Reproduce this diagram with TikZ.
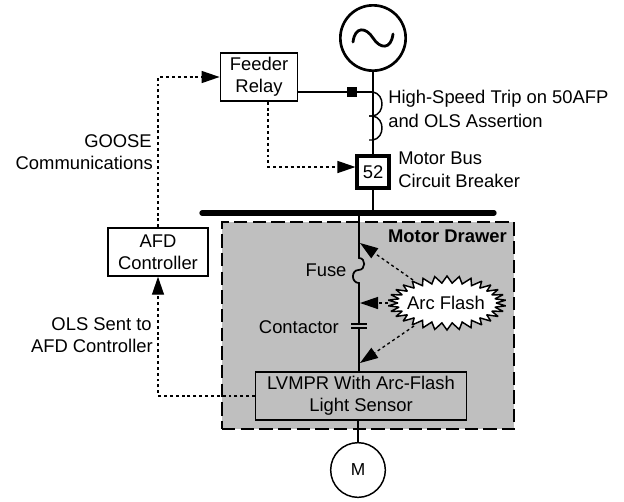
\documentclass[tikz,border=0pt]{standalone}
\usepackage{fontspec}
\setmainfont{Liberation Sans}
\usetikzlibrary{arrows.meta}
\definecolor{drawergray}{HTML}{BFBFBF}
\tikzset{
  x=0.75pt,y=-0.75pt,
  lbl/.style={font=\fontsize{13.8pt}{16.5pt}\selectfont,inner sep=0pt},
  boxed/.style={draw,line width=1.1pt,fill=white,align=center,font=\fontsize{13.8pt}{16.5pt}\selectfont,inner sep=0pt},
  wire/.style={line width=1.1pt},
  feeder/.style={line width=1.9pt},
  dots/.style={line width=1pt,dash pattern=on 2.2pt off 2.2pt,-{Triangle[length=13.5pt,width=9pt]}},
}
\begin{document}
\begin{tikzpicture}
\useasboundingbox (0,0) rectangle (624,501);
\fill[white] (0,0) rectangle (624,501);
% drawer
\node[draw,fill=drawergray,line width=1.3pt,dash pattern=on 10pt off 4pt,minimum width=219pt,minimum height=155pt,inner sep=0pt] (drawer) at (368,325.5) {};
\node[lbl,font=\fontsize{13.8pt}{16.5pt}\selectfont\bfseries,anchor=east] (drawerlbl) at (507,236) {Motor Drawer};
% bus
\coordinate (busL) at (202,213);
\coordinate (busR) at (494,213);
\coordinate (busA) at (373,213);
\coordinate (busB) at (359,213);
% nodes
\node[draw,line width=2pt,fill=white,circle,minimum size=49pt,inner sep=0pt] (src) at (373,38) {};
\node[boxed,minimum width=58pt,minimum height=36pt] (relay) at (259,77) {Feeder\\Relay};
\node[draw,line width=2.3pt,fill=white,minimum width=24pt,minimum height=24pt,inner sep=0pt,font=\fontsize{13.8pt}{16pt}\selectfont] (cb) at (373,172) {52};
\node[boxed,minimum width=75pt,minimum height=36pt] (afd) at (158,252) {AFD\\Controller};
\node[boxed,fill=drawergray,minimum width=158pt,minimum height=36pt] (lvmpr) at (361,396) {LVMPR With Arc-Flash\\Light Sensor};
\node[draw,line width=1.1pt,fill=white,circle,minimum size=41pt,inner sep=0pt,font=\fontsize{13pt}{16pt}\selectfont] (motor) at (358,470) {M};
\node[fill=black,minimum size=6.8pt,inner sep=0pt] (tap) at (352,92) {};
% arc flash burst
\draw[line width=1.1pt,fill=white,line join=miter,miter limit=2] plot[samples at={0,...,59}] ({447+(49+10*mod(\x,2))*cos(6*\x)},{303+(20+7*mod(\x,2))*sin(6*\x)}) -- cycle;
\node[lbl,font=\fontsize{13.8pt}{16pt}\selectfont] (arc) at (446,303) {Arc Flash};
% sine
\draw[line width=2.1pt,line cap=round] (353,42) .. controls (355,26) and (366,27) .. (373,38) .. controls (380,49) and (391,50) .. (393,34);
% lines
\draw[line width=4pt,line cap=round] (busL) -- (busR);
\coordinate (j1) at (373,92);
\coordinate (c1) at (373,116);
\coordinate (c2) at (373,140);
\draw[feeder] (src) -- (cb);
\draw[feeder] (cb) -- (busA);
\draw[wire] (relay.east |- j1) -- (tap) -- (j1);
\draw[wire] (j1) .. controls (385,94) and (385,114) .. (c1) -- ++(-4,0);
\draw[wire] (c1) ++(-4,0) -- (c1) .. controls (385,118) and (385,138) .. (c2) -- ++(-4,0);
% main drawer line with fuse and contactor
\coordinate (fuseT) at (359,258);
\coordinate (fuseM) at (358.5,270);
\coordinate (fuseB) at (359,283);
\draw[line width=1.3pt] (busB) -- (fuseT) .. controls (366,258) and (366,270) .. (fuseM) .. controls (351,270) and (351,283) .. (fuseB) -- (359,324);
\draw[line width=1.3pt] (359,328) -- (lvmpr.north -| fuseB);
\draw[line width=1.3pt] (lvmpr.south -| motor) -- (motor);
\draw[line width=1.2pt] (351,324) -- (367,324) (351,328) -- (367,328);
% dotted
\coordinate (g1) at (158,77);
\coordinate (r1) at (268,167);
\coordinate (o1) at (158,396);
\draw[dots] (afd.north) -- (g1) -- (relay.west |- g1);
\draw[dots] (relay.south -| r1) -- (r1) -- (cb.west |- r1);
\draw[dots] (lvmpr.west) -- (o1) -- (afd.south);
\coordinate (a1) at (360,243);
\coordinate (a2) at (360,303);
\coordinate (a3) at (360,363);
\draw[dots] (413,280) -- (a1);
\draw[dots] (388,303) -- (a2);
\draw[dots] (414,326) -- (a3);
% labels
\node[lbl,anchor=west] (t1) at (388,99) {High-Speed Trip on 50AFP};
\node[lbl,anchor=west] (t2) at (388,121) {and OLS Assertion};
\node[lbl,anchor=west] (t3) at (398,158) {Motor Bus};
\node[lbl,anchor=west] (t4) at (398,181) {Circuit Breaker};
\node[lbl,anchor=east] (t5) at (152,141) {GOOSE};
\node[lbl,anchor=east] (t6) at (153,163) {Communications};
\node[lbl,anchor=east] (t7) at (152,324) {OLS Sent to};
\node[lbl,anchor=east] (t8) at (153,346) {AFD Controller};
\node[lbl] (t9) at (326,270) {Fuse};
\node[lbl,anchor=east] (t10) at (339,327) {Contactor};
\end{tikzpicture}
\end{document}
